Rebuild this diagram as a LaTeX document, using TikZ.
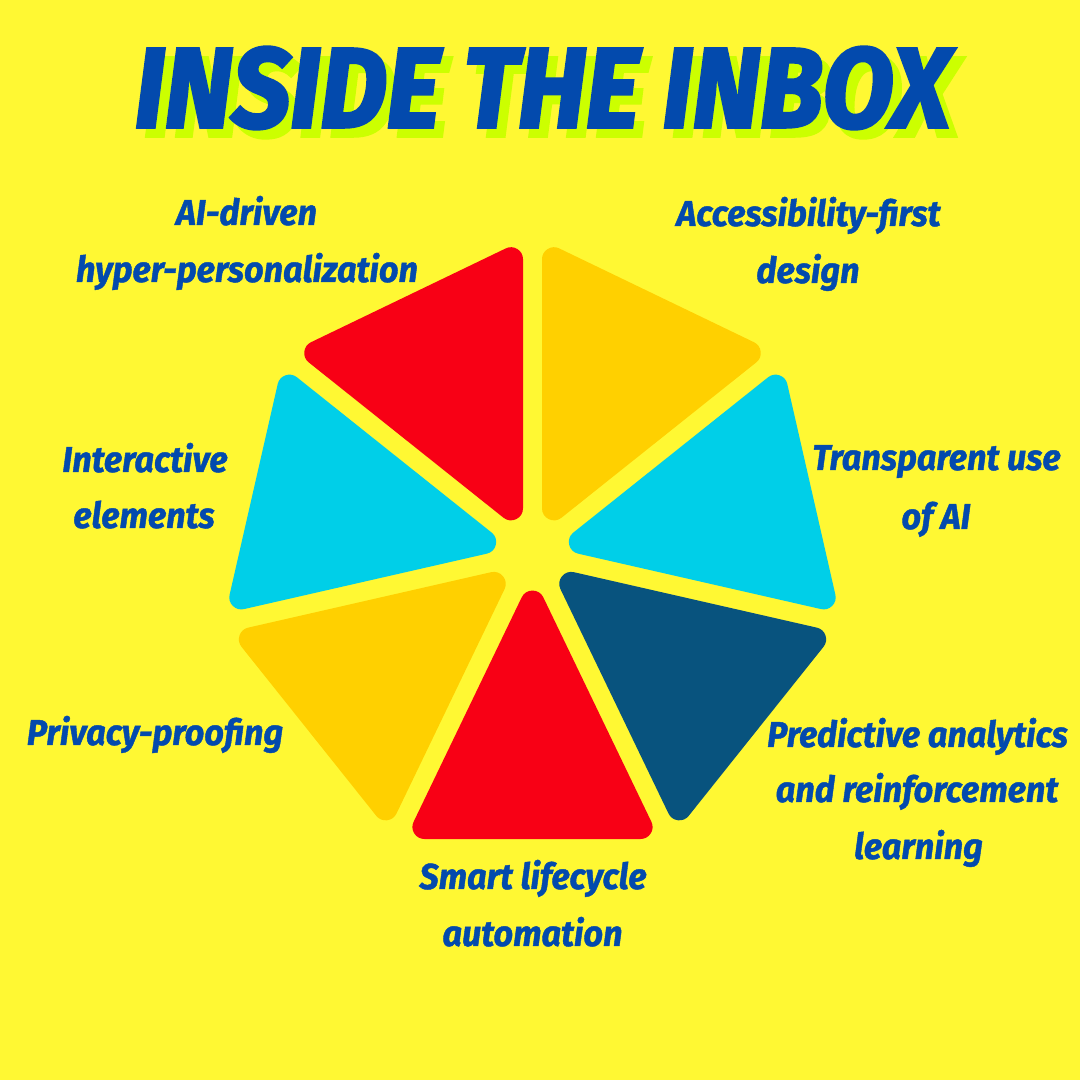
\documentclass[tikz,border=0pt]{standalone}
\usepackage{fontspec}
\usepackage{graphicx}
\setmainfont{Fira Sans}[FakeBold=1.2]
\newfontfamily\titlefont{Fira Sans}[FakeBold=3]
\usetikzlibrary{calc}
\definecolor{bg}{HTML}{FFF833}
\definecolor{sred}{HTML}{F80015}
\definecolor{syel}{HTML}{FFD000}
\definecolor{scya}{HTML}{00CFE8}
\definecolor{sdb}{HTML}{08537E}
\definecolor{tblue}{HTML}{034AAD}
\definecolor{shad}{HTML}{CCFF00}
\newcommand\mylab[1]{\scalebox{0.95}[1]{#1}}
\newcommand\mytitle{\resizebox{815pt}{80pt}{\titlefont\bfseries\itshape INSIDE THE INBOX}}
\begin{document}
\begin{tikzpicture}[x=1pt,y=1pt,
  lbl/.style={anchor=base, text=tblue, inner sep=0pt,
    font=\fontsize{36}{36}\selectfont\bfseries\itshape},
  slice/.style={fill=#1, draw=#1, line width=24pt, line join=round}]
\fill[bg] (0,0) rectangle (1080,1080);
\useasboundingbox (0,0) rectangle (1080,1080);
\coordinate (C) at (532.5,527);
\foreach \i/\col in {0/syel,1/scya,2/sdb,3/sred,4/syel,5/scya,6/sred}{
  \coordinate (A) at ($(C)+({90-\i*360/7}:328)$);
  \coordinate (B) at ($(C)+({90-(\i+1)*360/7}:328)$);
  \coordinate (I) at ($(C)+({90-(\i+0.5)*360/7}:206.1)$);
  \filldraw[slice=\col] ($(I)!0.7595!(C)$) -- ($(I)!0.7595!(A)$) -- ($(I)!0.7595!(B)$) -- cycle;
}
% title
\node[inner sep=0pt, text=shad] (titleshadow) at (551.5,983) {\mytitle};
\node[inner sep=0pt, text=tblue] (title) at (542.5,992) {\mytitle};
% labels
\node[lbl] (l1a) at (246.5,855) {\mylab{AI-driven}};
\node[lbl] (l1b) at (247,798) {\mylab{hyper-personalization}};
\node[lbl] (l2a) at (808.5,854) {\mylab{Accessibility-first}};
\node[lbl] (l2b) at (808,797) {\mylab{design}};
\node[lbl] (l3a) at (145,608) {\mylab{Interactive}};
\node[lbl] (l3b) at (144,552) {\mylab{elements}};
\node[lbl] (l4a) at (936.5,610) {\mylab{Transparent use}};
\node[lbl] (l4b) at (936,551) {\mylab{of AI}};
\node[lbl] (l5) at (155,335) {\mylab{Privacy-proofing}};
\node[lbl] (l6a) at (917.5,333) {\mylab{Predictive analytics}};
\node[lbl] (l6b) at (917,278) {\mylab{and reinforcement}};
\node[lbl] (l6c) at (918.5,221) {\mylab{learning}};
\node[lbl] (l7a) at (533,191) {\mylab{Smart lifecycle}};
\node[lbl] (l7b) at (532.5,134) {\mylab{automation}};
\end{tikzpicture}
\end{document}
